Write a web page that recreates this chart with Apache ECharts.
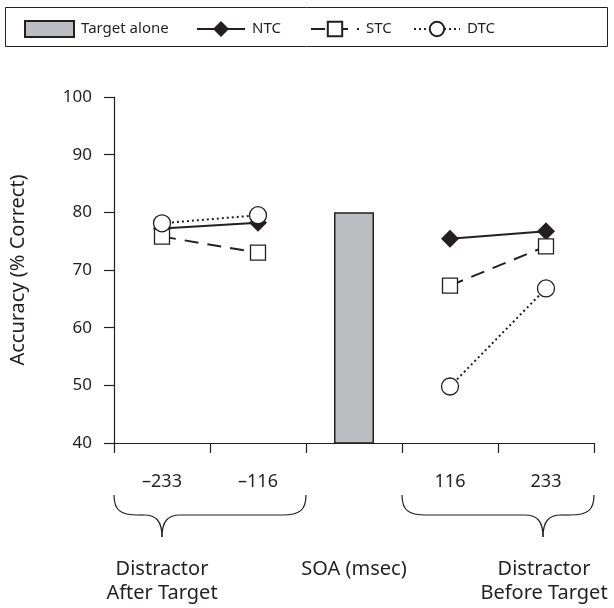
<!DOCTYPE html>
<html>
<head>
<meta charset="utf-8">
<script src="https://cdn.jsdelivr.net/npm/echarts@6/dist/echarts.min.js"></script>
<style>
  html, body { margin: 0; padding: 0; background: #fff; }
  #main { width: 614px; height: 608px; }
</style>
</head>
<body>
<div id="main"></div>
<script>
// SOA categories (middle slot holds the target-alone bar)
var categories = ["\u2013233", "\u2013116", "", "116", "233"];
var targetAlone = [null, null, 80, null, null];
var ntc = [77.2, 78.2, null, 75.4, 76.7];
var stc = [75.8, 73.0, null, 67.3, 74.1];
var dtc = [78.1, 79.5, null, 49.8, 66.8];
var yTicks = [40, 50, 60, 70, 80, 90, 100];

var ink = "#231f20";
var font = "Noto Sans";

var myChart = echarts.init(document.getElementById("main"));

function legendAt(name, left, w, h, icon) {
    return {
        data: [icon ? { name: name, icon: icon } : name],
        left: left,
        top: 14,
        itemWidth: w,
        itemHeight: h,
        itemGap: 0,
        textStyle: { color: ink, fontFamily: font, fontSize: 15, lineHeight: 20, padding: [0, 0, 0, 2] },
        selectedMode: false
    };
}

var option = {
    animation: false,
    backgroundColor: "#fff",
    legend: [
        legendAt("Target alone", 19, 49, 16, "rect"),
        legendAt("NTC", 191, 48, 20),
        legendAt("STC", 305, 48, 18),
        legendAt("DTC", 408, 46, 18)
    ],
    grid: { left: 114, right: 20, top: 97, height: 346 },
    xAxis: {
        type: "category",
        data: categories,
        boundaryGap: true,
        axisLine: { lineStyle: { color: ink, width: 1.2 } },
        axisTick: { show: true, length: 10, alignWithLabel: false, lineStyle: { color: ink, width: 1.2 } },
        axisLabel: { color: ink, fontFamily: font, fontSize: 18, margin: 30 }
    },
    yAxis: {
        type: "value",
        min: 40,
        max: 100,
        interval: 10,
        name: "Accuracy (% Correct)",
        nameLocation: "middle",
        nameGap: 86,
        nameTextStyle: { color: ink, fontFamily: font, fontSize: 20 },
        splitLine: { show: false },
        axisLine: { show: true, lineStyle: { color: ink, width: 1.2 } },
        axisTick: { show: true, length: 10, lineStyle: { color: ink, width: 1.2 } },
        axisLabel: {
            color: ink, fontFamily: font, fontSize: 17, margin: 22,
            formatter: function (v) { return yTicks.indexOf(v) >= 0 ? String(v) : ""; }
        }
    },
    series: [
        {
            name: "Target alone",
            type: "bar",
            data: targetAlone,
            barWidth: 40,
            itemStyle: { color: "#bcbdc0", borderColor: ink, borderWidth: 1.5 }
        },
        {
            name: "NTC",
            type: "line",
            data: ntc,
            connectNulls: false,
            symbol: "diamond",
            symbolSize: 18,
            lineStyle: { color: ink, width: 2 },
            itemStyle: { color: ink, borderColor: ink, borderWidth: 0 }
        },
        {
            name: "STC",
            type: "line",
            data: stc,
            connectNulls: false,
            symbol: "rect",
            symbolSize: 15,
            lineStyle: { color: ink, width: 2, type: [14, 9] },
            itemStyle: { color: "#fff", borderColor: ink, borderWidth: 1.3 }
        },
        {
            name: "DTC",
            type: "line",
            data: dtc,
            connectNulls: false,
            symbol: "circle",
            symbolSize: 17,
            lineStyle: { color: ink, width: 2, type: [2, 3] },
            itemStyle: { color: "#fff", borderColor: ink, borderWidth: 1.3 }
        }
    ]
};

myChart.setOption(option);

// curly brace built from bezier pieces and straight lines
function brace(x0, x1, tip, yTop, yMid, yTip) {
    var st = { fill: "none", stroke: ink, lineWidth: 1.2 };
    function bz(a, b, c1, c2) {
        return { type: "bezierCurve", silent: true, style: st,
            shape: { x1: a[0], y1: a[1], cpx1: c1[0], cpy1: c1[1], cpx2: c2[0], cpy2: c2[1], x2: b[0], y2: b[1] } };
    }
    function ln(a, b) {
        return { type: "line", silent: true, style: st, shape: { x1: a[0], y1: a[1], x2: b[0], y2: b[1] } };
    }
    return [
        bz([x0, yTop], [x0 + 24, yMid], [x0, yMid - 5], [x0 + 6, yMid]),
        ln([x0 + 24, yMid], [tip - 18, yMid]),
        bz([tip - 18, yMid], [tip, yTip], [tip - 6, yMid], [tip, yMid + 6]),
        bz([tip, yTip], [tip + 18, yMid], [tip, yMid + 6], [tip + 6, yMid]),
        ln([tip + 18, yMid], [x1 - 24, yMid]),
        bz([x1 - 24, yMid], [x1, yTop], [x1 - 6, yMid], [x1, yMid - 5])
    ];
}

function drawExtras() {
    var c = [];
    for (var i = 0; i < categories.length; i++) {
        c.push(myChart.convertToPixel({ xAxisIndex: 0 }, i));
    }
    var band = c[1] - c[0];
    var yTop = 495, yMid = 515, yTip = 537;
    var capStyle = { fill: ink, font: "20px '" + font + "'", textAlign: "center", textVerticalAlign: "top", lineHeight: 24 };
    var g = [
        { type: "rect", silent: true, shape: { x: 5.5, y: 7.5, width: 602, height: 39 }, style: { fill: "none", stroke: ink, lineWidth: 1 } },
        { type: "text", x: c[0], y: 557, style: Object.assign({ text: "Distractor\nAfter Target" }, capStyle) },
        { type: "text", x: c[2], y: 557, style: Object.assign({ text: "SOA (msec)" }, capStyle) },
        { type: "text", x: c[4] - 2, y: 557, style: Object.assign({ text: "Distractor\nBefore Target" }, capStyle) }
    ];
    g = g.concat(brace(c[0] - band / 2, c[1] + band / 2, c[0], yTop, yMid, yTip));
    g = g.concat(brace(c[3] - band / 2, c[4] + band / 2, c[4] - 3, yTop, yMid, yTip));
    myChart.setOption({ graphic: g });
}
drawExtras();
</script>
</body>
</html>
